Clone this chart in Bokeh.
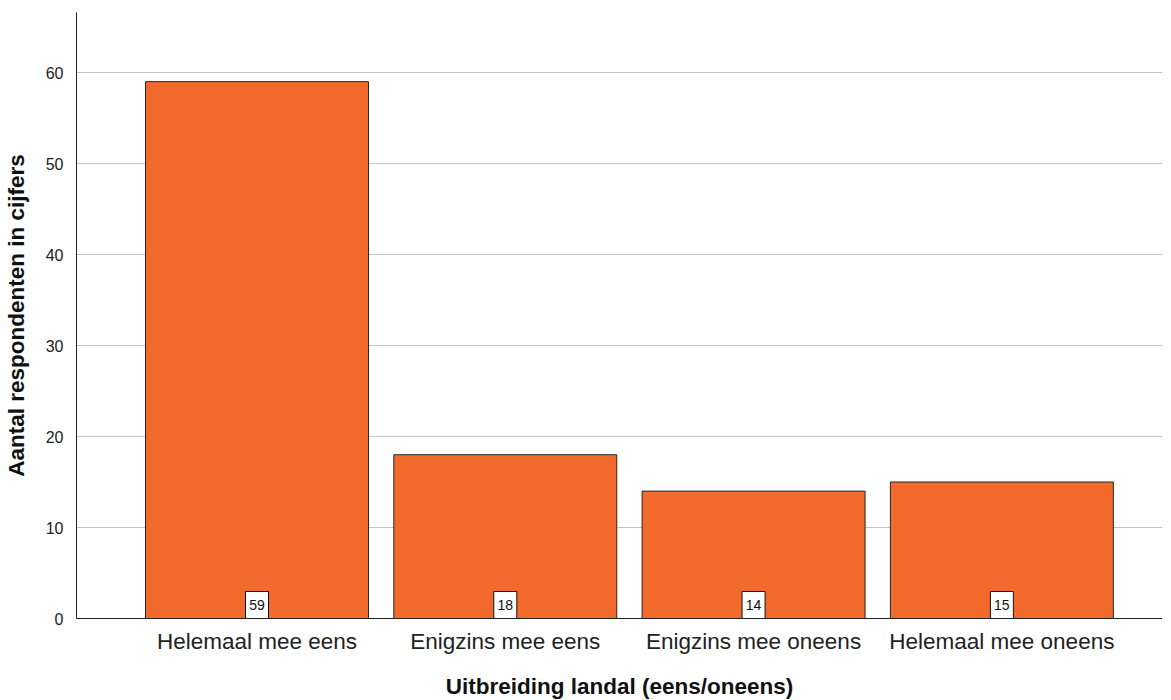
from bokeh.plotting import figure
from bokeh.models import Range1d, FixedTicker, ColumnDataSource
from bokeh.embed import file_html
from bokeh.resources import INLINE
from bokeh.core.properties import value

categories = ["Helemaal mee eens", "Enigzins mee eens", "Enigzins mee oneens", "Helemaal mee oneens"]
counts = [59, 18, 14, 15]
y_ticks = [0, 10, 20, 30, 40, 50, 60]

FONT = "Liberation Sans"
xs = list(range(len(categories)))

frame_h = 606
y_max = 66.6
px_per_unit = frame_h / y_max
box_h = 27 / px_per_unit

src = ColumnDataSource(dict(
    x=xs,
    top=counts,
    label=[str(c) for c in counts],
    by=[box_h / 2] * len(xs),
))

p = figure(
    frame_width=1086, frame_height=frame_h,
    x_range=Range1d(-0.727, 3.647), y_range=Range1d(0, y_max),
    output_backend="svg", toolbar_location=None,
    min_border_left=69, min_border_right=0, min_border_top=12, min_border_bottom=70,
)
p.outline_line_color = None
p.background_fill_color = "white"
p.border_fill_color = "white"

p.vbar(x="x", top="top", bottom=0, width=0.898, source=src,
       fill_color="#F26A2C", line_color="#262626", line_width=1)

p.rect(x="x", y="by", width=23, width_units="screen", height=box_h, source=src,
       fill_color="white", line_color="#111111", line_width=1)
p.text(x="x", y="by", text="label", source=src, text_align="center", text_baseline="middle",
       text_font=value(FONT), text_font_size="14px", text_color="#111111")

# grid
p.xgrid.grid_line_color = None
p.ygrid.ticker = FixedTicker(ticks=y_ticks)
p.ygrid.grid_line_color = "#c4c4c4"
p.ygrid.grid_line_width = 1

# y axis
ya = p.yaxis[0]
ya.ticker = FixedTicker(ticks=y_ticks)
ya.axis_label = "Aantal respondenten in cijfers"
ya.axis_label_text_font = FONT
ya.axis_label_text_font_style = "bold"
ya.axis_label_text_font_size = "22.5px"
ya.axis_label_text_color = "#111111"
ya.axis_label_standoff = 14
ya.major_label_text_font = FONT
ya.major_label_text_font_size = "16px"
ya.major_label_text_color = "#222222"
ya.major_label_standoff = 7
ya.major_tick_line_color = None
ya.minor_tick_line_color = None
ya.axis_line_color = "#222222"

# x axis
xa = p.xaxis[0]
xa.ticker = FixedTicker(ticks=xs)
xa.major_label_overrides = {i: c for i, c in zip(xs, categories)}
xa.axis_label = "Uitbreiding landal (eens/oneens)"
xa.axis_label_text_font = FONT
xa.axis_label_text_font_style = "bold"
xa.axis_label_text_font_size = "22.5px"
xa.axis_label_text_color = "#111111"
xa.axis_label_standoff = 17
xa.major_label_text_font = FONT
xa.major_label_text_font_size = "22.5px"
xa.major_label_text_color = "#222222"
xa.major_label_standoff = 4
xa.major_tick_line_color = None
xa.minor_tick_line_color = None
xa.axis_line_color = "#222222"

open("out.html", "w").write(file_html(p, INLINE))
